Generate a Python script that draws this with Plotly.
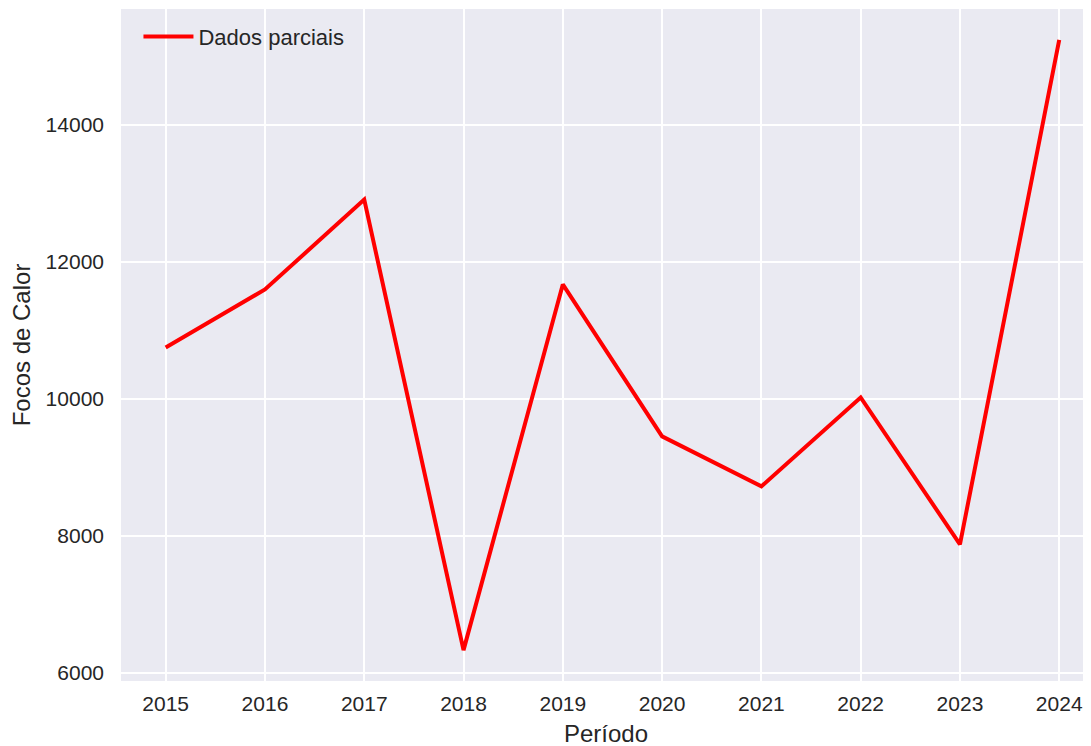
import plotly.graph_objects as go

years = [2015, 2016, 2017, 2018, 2019, 2020, 2021, 2022, 2023, 2024]
focos = [10750, 11595, 12905, 6335, 11668, 9452, 8723, 10020, 7878, 15235]
series_name = "Dados parciais"
x_title = "Período"
y_title = "Focos de Calor"
ytick_vals = [6000, 8000, 10000, 12000, 14000]
ytick_text = ["6000", "8000", "10000", "12000", "14000"]

txt = "#262626"
font = "Liberation Sans, Arial, sans-serif"

fig = go.Figure()
fig.add_trace(go.Scatter(x=years, y=focos, mode="lines", name=series_name,
                         line=dict(color="#ff0000", width=4)))

# page body has an 8px margin, so the figure is offset by 8px
fig.update_layout(
    width=1083, height=738,
    margin=dict(l=113, r=0, t=1, b=65, autoexpand=False),
    paper_bgcolor="white", plot_bgcolor="#eaeaf2",
    font=dict(family=font, size=21, color=txt),
    showlegend=True,
    legend=dict(x=0.018, y=0.99, xanchor="left", yanchor="top",
                bgcolor="rgba(0,0,0,0)", font=dict(size=22, color=txt),
                itemwidth=50),
)
fig.add_annotation(text=x_title, xref="paper", yref="paper", x=0.5, y=-0.0785,
                   xanchor="center", yanchor="middle", showarrow=False,
                   font=dict(size=24, color=txt), borderpad=0)
fig.update_xaxes(
    range=[2014.55, 2024.32], tickvals=years, ticktext=[str(y) for y in years],
    showgrid=True, gridcolor="white", gridwidth=2, zeroline=False,
    showline=False, ticks="", ticklabelstandoff=8, automargin=False,
    tickfont=dict(size=21, color=txt),
)
fig.update_yaxes(
    range=[5885, 15685], tickvals=ytick_vals, ticktext=ytick_text,
    showgrid=True, gridcolor="white", gridwidth=2, zeroline=False,
    showline=False, ticks="", ticklabelstandoff=16, automargin=False,
    title=dict(text=y_title, font=dict(size=24, color=txt), standoff=8),
    tickfont=dict(size=21, color=txt),
)

fig.write_html("out.html")
